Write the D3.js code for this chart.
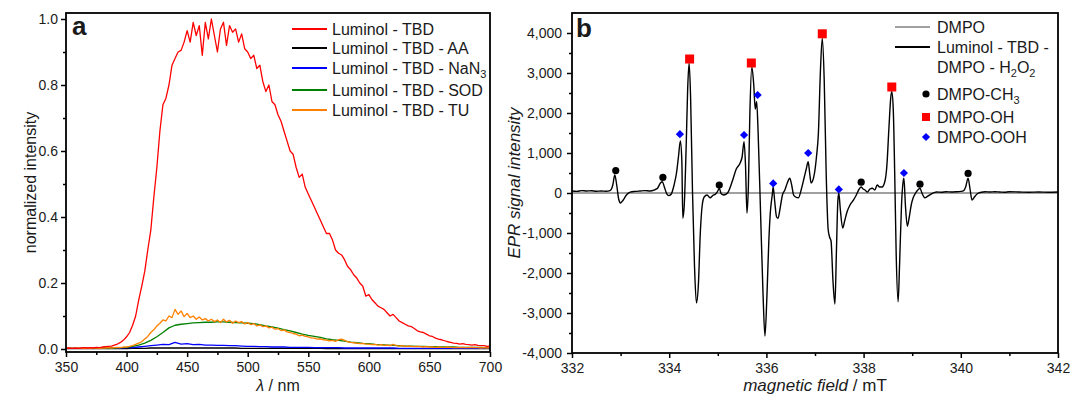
<!DOCTYPE html>
<html><head><meta charset="utf-8">
<script src="https://cdn.jsdelivr.net/npm/d3@7"></script>
<style>
body{margin:0;background:#fff}
svg text{font-family:"Liberation Sans",Arial,Helvetica,sans-serif;fill:#1a1a1a}
</style>
</head><body>
<svg id="chart" width="1071" height="395"></svg>
<script>
// ---------- Panel a data (normalized chemiluminescence intensity) ----------
const wlFine = d3.range(350, 700.001, 2.5);   // grid for red & orange
const wlCoarse = d3.range(350, 700.001, 5);   // grid for green, blue, black

const redTBD = [
 .002,.003,.002,.003,.002,.003,.004,.003,.004,.003,
 .005,.004,.006,.007,.008,.009,.012,.015,.02,.027,
 .037,.05,.072,.1,.148,.19,.235,.3,.36,.46,
 .55,.66,.74,.76,.8,.86,.88,.9,.905,.93,
 .965,.93,.99,.95,.98,.89,.99,.94,1.0,.95,
 .9,.97,.99,.92,.98,.96,.97,.93,.955,.91,
 .9,.88,.89,.85,.86,.81,.78,.8,.75,.74,
 .71,.69,.66,.63,.6,.59,.55,.52,.53,.49,
 .47,.45,.43,.41,.39,.37,.35,.35,.33,.3,
 .29,.285,.27,.25,.24,.225,.215,.2,.19,.16,
 .165,.15,.14,.13,.125,.12,.11,.1,.105,.095,
 .085,.08,.075,.07,.068,.062,.055,.052,.05,.045,
 .04,.038,.033,.03,.028,.025,.022,.02,.018,.017,
 .015,.016,.014,.013,.012,.013,.011,.01,.01,.008,
 .009];
const orangeTU = [
 .002,.003,.002,.002,.003,.002,.002,.003,.002,.003,
 .003,.002,.003,.003,.004,.003,.004,.005,.004,.006,
 .006,.008,.01,.014,.018,.022,.03,.038,.05,.058,
 .07,.078,.088,.085,.1,.095,.12,.105,.115,.098,
 .108,.095,.1,.09,.097,.088,.092,.085,.09,.083,
 .088,.08,.09,.082,.087,.078,.085,.08,.083,.076,
 .08,.074,.077,.07,.073,.068,.07,.064,.066,.06,
 .062,.056,.058,.052,.05,.047,.045,.04,.042,.038,
 .037,.034,.033,.03,.031,.028,.027,.025,.026,.023,
 .028,.03,.026,.022,.02,.019,.018,.016,.017,.015,
 .015,.013,.014,.012,.013,.011,.012,.01,.014,.01,
 .009,.01,.008,.009,.008,.007,.008,.007,.006,.007,
 .006,.006,.005,.006,.005,.005,.006,.005,.004,.005,
 .004,.005,.004,.004,.005,.004,.004,.003,.004,.003,
 .004];
const greenSOD = [
 .002,.002,.002,.002,.002,.002,.003,.003,.003,.004,
 .005,.008,.012,.018,.026,.037,.05,.064,.072,.075,
 .077,.079,.08,.081,.081,.082,.082,.081,.08,.079,
 .078,.077,.074,.07,.067,.063,.059,.055,.05,.045,
 .041,.038,.035,.031,.028,.026,.024,.021,.019,.017,
 .016,.014,.013,.012,.011,.01,.009,.009,.008,.008,
 .007,.007,.006,.006,.006,.005,.005,.005,.005,.004,
 .004];
const blueNaN3 = [
 .002,.002,.002,.002,.002,.002,.002,.003,.003,.003,
 .004,.004,.006,.008,.01,.012,.014,.013,.02,.015,
 .016,.013,.014,.012,.012,.011,.011,.01,.01,.009,
 .008,.008,.007,.007,.006,.006,.006,.005,.005,.005,
 .005,.004,.004,.004,.004,.004,.003,.003,.003,.003,
 .003,.003,.003,.003,.003,.002,.002,.002,.002,.002,
 .002,.002,.002,.002,.002,.002,.002,.002,.002,.002,
 .002];
const blackAA = [
 .001,.001,.001,.001,.001,.001,.001,.001,.001,.001,
 .001,.002,.002,.002,.003,.003,.003,.003,.003,.003,
 .003,.003,.003,.003,.003,.003,.003,.003,.003,.002,
 .002,.002,.002,.002,.002,.002,.002,.002,.002,.002,
 .002,.002,.002,.001,.002,.001,.001,.001,.001,.001,
 .001,.001,.001,.001,.001,.001,.001,.001,.001,.001,
 .001,.001,.001,.001,.001,.001,.001,.001,.001,.001,
 .001];

const seriesA = [
  {label:"Luminol - TBD", sub:null, color:"#ff0000", x:wlFine, y:redTBD},
  {label:"Luminol - TBD - AA", sub:null, color:"#000000", x:wlCoarse, y:blackAA},
  {label:"Luminol - TBD - NaN", sub:"3", color:"#0000ff", x:wlCoarse, y:blueNaN3},
  {label:"Luminol - TBD - SOD", sub:null, color:"#008000", x:wlCoarse, y:greenSOD},
  {label:"Luminol - TBD - TU", sub:null, color:"#ff8000", x:wlFine, y:orangeTU}
];
const drawOrderA = [1,2,3,4,0];
const xTicksA = [350,400,450,500,550,600,650,700];
const yTicksA = [0,0.2,0.4,0.6,0.8,1.0];

// ---------- Panel b data (EPR spectrum) ----------
const eprField = [
 332.00,332.10,332.20,332.30,332.40,332.50,332.60,332.70,332.78,332.84,
 332.88,332.92,332.96,333.00,333.05,333.12,333.20,333.30,333.40,333.50,
 333.60,333.70,333.76,333.82,333.86,333.90,333.95,333.99,334.04,334.10,
 334.15,334.19,334.23,334.26,334.28,334.31,334.35,334.38,334.41,334.44,
 334.48,334.52,334.56,334.60,334.64,334.68,334.72,334.78,334.84,334.90,
 334.96,335.00,335.03,335.07,335.12,335.20,335.30,335.38,335.46,335.50,
 335.54,335.57,335.60,335.63,335.66,335.70,335.74,335.77,335.80,335.83,
 335.88,335.93,335.97,336.01,336.05,336.08,336.12,336.14,336.17,336.21,
 336.24,336.28,336.33,336.38,336.43,336.48,336.52,336.56,336.60,336.66,
 336.72,336.78,336.82,336.86,336.89,336.92,336.95,336.99,337.03,337.07,
 337.11,337.15,337.19,337.23,337.27,337.30,337.33,337.37,337.41,337.44,
 337.47,337.49,337.52,337.57,337.61,337.66,337.72,337.79,337.85,337.91,
 337.95,337.99,338.03,338.08,338.13,338.18,338.23,338.28,338.33,338.38,
 338.44,338.48,338.52,338.56,338.58,338.61,338.64,338.67,338.71,338.74,
 338.78,338.81,338.83,338.86,338.90,338.94,338.98,339.02,339.07,339.12,
 339.16,339.20,339.26,339.32,339.40,339.50,339.60,339.70,339.80,339.90,
 340.00,340.06,340.10,340.15,340.19,340.23,340.28,340.34,340.42,340.50,
 340.60,340.70,340.80,340.90,341.00,341.20,341.40,341.60,341.80,342.00];
const eprSignal = [
 50,40,60,50,55,45,50,45,60,200,
 450,200,-150,-250,-180,-50,20,40,50,60,
 50,80,120,250,280,150,-20,-65,-30,200,
 500,900,1300,800,-630,-300,1200,2600,3250,2400,
 0,-1800,-2750,-2300,-1000,-300,-100,-50,-120,-60,
 -20,50,120,-20,-50,0,300,600,750,900,
 1280,700,-500,200,2000,3150,2700,2100,2280,1500,
 -500,-2500,-3575,-2600,-1200,-500,-50,150,-200,-600,
 -630,-400,-50,75,250,370,200,-50,-100,-120,
 100,400,600,780,500,250,300,500,900,1500,
 3000,3870,2800,500,-900,-1100,-1200,-2200,-2775,-1500,
 -200,0,-400,-875,-700,-470,-300,-180,-50,100,
 150,100,75,25,100,120,75,200,150,150,
 300,700,1600,2400,2530,2100,500,-1500,-2720,-1800,
 -300,250,370,-300,-830,-600,-300,-120,0,80,
 120,0,-120,-80,-20,25,20,30,25,30,
 40,60,150,370,100,-175,-100,-20,20,30,
 25,30,25,20,30,25,20,25,20,25];
const dmpoField = [332,333,334,335,336,337,338,339,340,341,342];
const dmpoSignal = [0,0,0,0,0,0,0,0,0,0,0];

const ch3Field = [332.90,333.87,335.03,337.95,339.16,340.15];
const ch3Signal = [560,390,200,270,220,490];
const ohField = [334.42,335.69,337.15,338.58];
const ohSignal = [3350,3250,3980,2650];
const oohField = [334.22,335.54,335.82,336.14,336.86,337.49,338.83];
const oohSignal = [1470,1450,2450,240,1000,90,500];

const xTicksB = [332,334,336,338,340,342];
const yTicksB = [-4000,-3000,-2000,-1000,0,1000,2000,3000,4000];

// ---------- drawing ----------
const svg = d3.select("#chart");
const TICKFS = 14;

function frame(g, x0, y0, x1, y1){
  g.append("rect").attr("x",x0).attr("y",y0).attr("width",x1-x0).attr("height",y1-y0)
   .attr("fill","none").attr("stroke","#000").attr("stroke-width",1.8);
}
function styleAxis(sel){
  sel.select(".domain").remove();
  sel.selectAll(".tick line").attr("stroke","#000").attr("stroke-width",1.5);
  sel.selectAll(".tick text").attr("font-size",TICKFS).style("fill","#1a1a1a")
     .attr("font-family","Liberation Sans, Arial, sans-serif");
}

// ===== Panel a =====
const ax0=66, ax1=490, ay0=13, ay1=352;
const xa = d3.scaleLinear().domain([350,700]).range([ax0,ax1]);
const ya = d3.scaleLinear().domain([0,1]).range([349,19]);
const ga = svg.append("g");
svg.append("clipPath").attr("id","clipA").append("rect")
  .attr("x",ax0).attr("y",ay0).attr("width",ax1-ax0).attr("height",ay1-ay0);

const lineA = d3.line().x(d=>xa(d[0])).y(d=>ya(d[1]));
drawOrderA.forEach(i=>{
  const s = seriesA[i];
  const pts = s.y.map((v,k)=>[s.x[k],v]);
  ga.append("path").attr("clip-path","url(#clipA)").attr("d",lineA(pts))
    .attr("fill","none").attr("stroke",s.color).attr("stroke-width",1.3)
    .attr("stroke-linejoin","round");
});

const xAxA = ga.append("g").attr("transform",`translate(0,${ay1})`)
  .call(d3.axisBottom(xa).tickValues(xTicksA).tickSize(5).tickPadding(5).tickFormat(d3.format("d")));
styleAxis(xAxA);
const xMinA = ga.append("g").attr("transform",`translate(0,${ay1})`)
  .call(d3.axisBottom(xa).tickValues([375,425,475,525,575,625,675]).tickSize(3).tickFormat(""));
styleAxis(xMinA);
const yAxA = ga.append("g").attr("transform",`translate(${ax0},0)`)
  .call(d3.axisLeft(ya).tickValues(yTicksA).tickSize(5).tickPadding(3).tickFormat(d3.format(".1f")));
styleAxis(yAxA);
const yMinA = ga.append("g").attr("transform",`translate(${ax0},0)`)
  .call(d3.axisLeft(ya).tickValues([0.1,0.3,0.5,0.7,0.9]).tickSize(3).tickFormat(""));
styleAxis(yMinA);
frame(ga, ax0, ay0, ax1, ay1);

ga.append("text").attr("x",72).attr("y",35).attr("font-size",26).attr("font-weight","bold").text("a");

// legend a
const legAy = [29,48,68,90,110];
seriesA.forEach((s,i)=>{
  ga.append("line").attr("x1",292).attr("x2",327).attr("y1",legAy[i]).attr("y2",legAy[i])
    .attr("stroke",s.color).attr("stroke-width",2);
  const t = ga.append("text").attr("x",332).attr("y",legAy[i]+5.5).attr("font-size",16);
  t.append("tspan").text(s.label);
  if(s.sub) t.append("tspan").attr("font-size",11).attr("dy",4).text(s.sub);
});

// axis titles a
ga.append("text").attr("transform",`translate(36,${(ay0+ay1)/2}) rotate(-90)`)
  .attr("text-anchor","middle").attr("font-size",16).text("normalized intensity");
const ta = ga.append("text").attr("x",(ax0+ax1)/2).attr("y",391).attr("text-anchor","middle").attr("font-size",16);
ta.append("tspan").attr("font-style","italic").text("λ");
ta.append("tspan").text(" / nm");

// ===== Panel b =====
const bx0=572, bx1=1058, by0=13, by1=353;
const xb = d3.scaleLinear().domain([332,342]).range([bx0,bx1]);
const yb = d3.scaleLinear().domain([-4000,4500]).range([by1,by0]);
const gb = svg.append("g");
svg.append("clipPath").attr("id","clipB").append("rect")
  .attr("x",bx0).attr("y",by0).attr("width",bx1-bx0).attr("height",by1-by0);
const lineB = d3.line().x(d=>xb(d[0])).y(d=>yb(d[1])).curve(d3.curveMonotoneX);

gb.append("path").attr("clip-path","url(#clipB)")
  .attr("d",lineB(dmpoField.map((f,k)=>[f,dmpoSignal[k]])))
  .attr("fill","none").attr("stroke","#808080").attr("stroke-width",1.3);
gb.append("path").attr("clip-path","url(#clipB)")
  .attr("d",lineB(eprField.map((f,k)=>[f,eprSignal[k]])))
  .attr("fill","none").attr("stroke","#000").attr("stroke-width",1.4).attr("stroke-linejoin","round");

// markers
gb.selectAll(".ch3").data(ch3Field).enter().append("circle")
  .attr("cx",d=>xb(d)).attr("cy",(d,i)=>yb(ch3Signal[i])).attr("r",3.6).attr("fill","#000");
gb.selectAll(".oh").data(ohField).enter().append("rect")
  .attr("x",d=>xb(d)-4.5).attr("y",(d,i)=>yb(ohSignal[i])-4.5).attr("width",9).attr("height",9).attr("fill","#ff0000");
const diamond = d3.symbol().type(d3.symbolSquare).size(34);
gb.selectAll(".ooh").data(oohField).enter().append("path")
  .attr("d",diamond).attr("transform",(d,i)=>`translate(${xb(d)},${yb(oohSignal[i])}) rotate(45)`).attr("fill","#0000ff");

const fmtB = v => (v<0?"-":"") + d3.format(",")(Math.abs(v));
const xAxB = gb.append("g").attr("transform",`translate(0,${by1})`)
  .call(d3.axisBottom(xb).tickValues(xTicksB).tickSize(5).tickPadding(5).tickFormat(d3.format("d")));
styleAxis(xAxB);
const xMinB = gb.append("g").attr("transform",`translate(0,${by1})`)
  .call(d3.axisBottom(xb).tickValues([333,335,337,339,341]).tickSize(3).tickFormat(""));
styleAxis(xMinB);
const yAxB = gb.append("g").attr("transform",`translate(${bx0},0)`)
  .call(d3.axisLeft(yb).tickValues(yTicksB).tickSize(5).tickPadding(5).tickFormat(fmtB));
styleAxis(yAxB);
const yMinB = gb.append("g").attr("transform",`translate(${bx0},0)`)
  .call(d3.axisLeft(yb).tickValues([-3500,-2500,-1500,-500,500,1500,2500,3500]).tickSize(3).tickFormat(""));
styleAxis(yMinB);
frame(gb, bx0, by0, bx1, by1);

gb.append("text").attr("x",576).attr("y",37).attr("font-size",26).attr("font-weight","bold").text("b");

// legend b
gb.append("line").attr("x1",895).attr("x2",930).attr("y1",27).attr("y2",27).attr("stroke","#808080").attr("stroke-width",1.5);
gb.append("text").attr("x",937).attr("y",32.5).attr("font-size",16).text("DMPO");
gb.append("line").attr("x1",895).attr("x2",930).attr("y1",47).attr("y2",47).attr("stroke","#000").attr("stroke-width",2);
gb.append("text").attr("x",937).attr("y",52.5).attr("font-size",16).text("Luminol - TBD -");
const t2 = gb.append("text").attr("x",937).attr("y",72.5).attr("font-size",16);
t2.append("tspan").text("DMPO - H");
t2.append("tspan").attr("font-size",11).attr("dy",4).text("2");
t2.append("tspan").attr("dy",-4).text("O");
t2.append("tspan").attr("font-size",11).attr("dy",4).text("2");

gb.append("circle").attr("cx",926).attr("cy",94).attr("r",3.6).attr("fill","#000");
const t3 = gb.append("text").attr("x",937).attr("y",99.5).attr("font-size",16);
t3.append("tspan").text("DMPO-CH");
t3.append("tspan").attr("font-size",11).attr("dy",4).text("3");
gb.append("rect").attr("x",922).attr("y",113).attr("width",8).attr("height",8).attr("fill","#ff0000");
gb.append("text").attr("x",937).attr("y",122.5).attr("font-size",16).text("DMPO-OH");
gb.append("path").attr("d",diamond).attr("transform","translate(926,137) rotate(45)").attr("fill","#0000ff");
gb.append("text").attr("x",937).attr("y",142.5).attr("font-size",16).text("DMPO-OOH");

// axis titles b
gb.append("text").attr("transform",`translate(520,${(by0+by1)/2}) rotate(-90)`)
  .attr("text-anchor","middle").attr("font-size",17).attr("font-style","italic").text("EPR signal intensity");
const tb = gb.append("text").attr("x",(bx0+bx1)/2).attr("y",391).attr("text-anchor","middle").attr("font-size",17);
tb.append("tspan").attr("font-style","italic").text("magnetic field");
tb.append("tspan").text(" / mT");
</script>
</body></html>
